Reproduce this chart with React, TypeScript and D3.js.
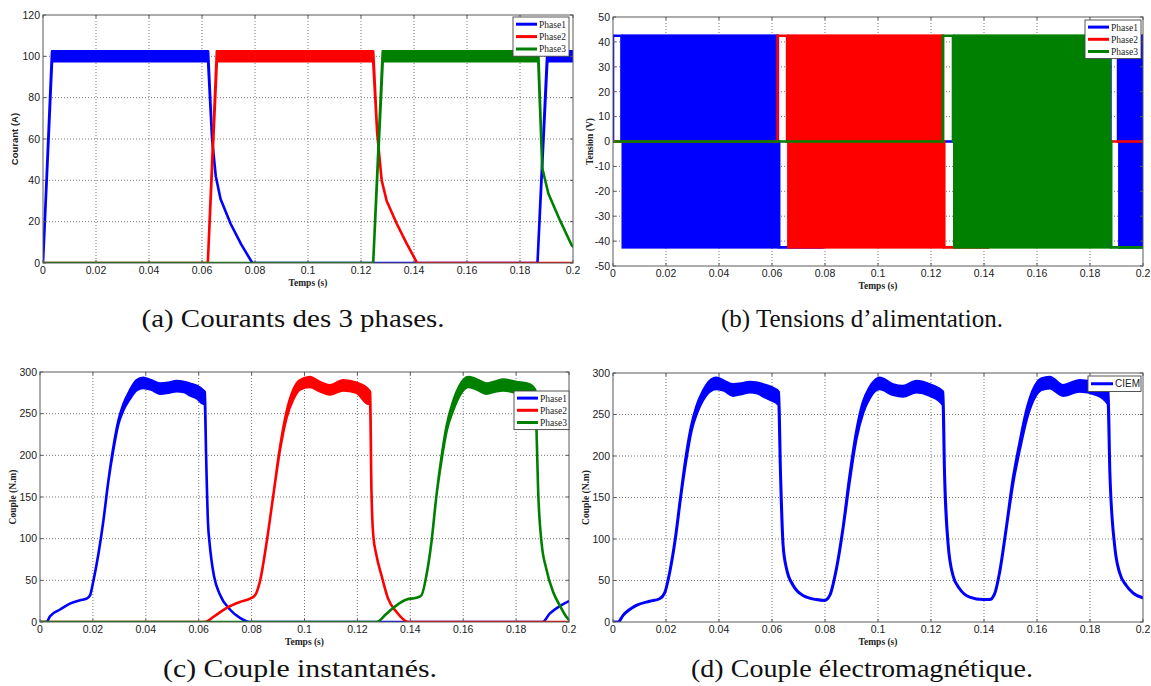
import React from 'react';
import * as d3 from 'd3';

type Band = [number, number, number];
type Seg = [number, number, number, number];

const timeTicks = [0, 0.02, 0.04, 0.06, 0.08, 0.1, 0.12, 0.14, 0.16, 0.18, 0.2];
const currentTicks = [0, 20, 40, 60, 80, 100, 120];
const voltageTicks = [-50, -40, -30, -20, -10, 0, 10, 20, 30, 40, 50];
const torqueTicks = [0, 50, 100, 150, 200, 250, 300];

const phaseNames = ['Phase1', 'Phase2', 'Phase3'];
const phaseColors = ['#0000ff', '#ff0000', '#008000'];
const totalName = 'CIEM';

// (a) currents [t, low, high]
const current1: Band[] = [
  [0, 0, 0], [0.0034, 97.6, 102.4], [0.0623, 97.6, 102.4], [0.0638, 60, 60], [0.0652, 42, 42],
  [0.067, 31, 31], [0.0708, 19, 19], [0.0748, 9, 9], [0.079, 0, 0], [0.1866, 0, 0],
  [0.1903, 97.6, 102.4], [0.2, 97.6, 102.4],
];
const current2: Band[] = [
  [0, 0, 0], [0.0622, 0, 0], [0.0656, 97.6, 102.4], [0.1246, 97.6, 102.4], [0.1261, 63, 63],
  [0.1278, 40, 40], [0.1297, 30, 30], [0.1335, 19, 19], [0.1372, 9.5, 9.5], [0.1412, 0, 0], [0.2, 0, 0],
];
const current3: Band[] = [
  [0, 0, 0], [0.1246, 0, 0], [0.1282, 97.6, 102.4], [0.1869, 97.6, 102.4], [0.1884, 46, 46],
  [0.1907, 33.6, 33.6], [0.1951, 20.6, 20.6], [0.1995, 8.6, 8.6], [0.2, 8, 8],
];

// (b) voltages [t0, t1, low, high]
const voltage1: Seg[] = [
  [0, 0, 0, 0], [0, 0.0032, 42.5, 42.5], [0.0032, 0.0627, -42.5, 42.5], [0.0627, 0.079, -42.5, -42.5],
  [0.079, 0.1877, 0, 0], [0.1877, 0.1906, 42.5, 42.5], [0.1906, 0.2, -42.5, 42.5],
];
const voltage2: Seg[] = [
  [0, 0.0621, 0, 0], [0.0621, 0.0657, 42.5, 42.5], [0.0657, 0.125, -42.5, 42.5],
  [0.125, 0.1415, -42.5, -42.5], [0.1415, 0.2, 0, 0],
];
const voltage3: Seg[] = [
  [0, 0.1245, 0, 0], [0.1245, 0.1283, 42.5, 42.5], [0.1283, 0.188, -42.5, 42.5], [0.188, 0.2, -42.5, -42.5],
];

// (c) torque per phase [t, low, high]
const torque1: Band[] = [
  [0, 0, 0], [0.0025, 0, 0], [0.0038, 7, 7], [0.0076, 15, 15], [0.0113, 22, 22], [0.0151, 26, 26],
  [0.0176, 28, 28], [0.0189, 32, 32], [0.0201, 48, 48], [0.022, 80, 80], [0.0239, 120, 120],
  [0.0258, 168, 168], [0.0277, 206, 209], [0.0296, 237, 241], [0.0315, 254, 261], [0.034, 268, 278],
  [0.0365, 278, 290], [0.039, 281, 293], [0.042, 279, 290], [0.0453, 274, 286], [0.0485, 275, 287],
  [0.0516, 277, 289], [0.0545, 276, 288], [0.0567, 272, 286], [0.0595, 268, 283], [0.0617, 262, 278],
  [0.0623, 262, 276], [0.0628, 200, 200], [0.0635, 120, 120], [0.0641, 95, 95], [0.0648, 75, 75],
  [0.0658, 55, 55], [0.068, 33, 33], [0.0718, 15, 15], [0.0756, 5, 5], [0.0794, 0, 0], [0.19, 0, 0],
  [0.1927, 10, 10], [0.1965, 19, 19], [0.2, 25, 25],
];
const torque2: Band[] = [
  [0, 0, 0], [0.0623, 0, 0], [0.0655, 6, 6], [0.0706, 17, 17], [0.0756, 24, 24], [0.0794, 28, 28],
  [0.0813, 32, 32], [0.0831, 48, 48], [0.0857, 96, 96], [0.0882, 152, 152], [0.0907, 206, 209],
  [0.0932, 245, 252], [0.0957, 267, 278], [0.0982, 279, 290], [0.102, 282, 294], [0.1058, 277, 288],
  [0.1096, 273, 284], [0.1146, 278, 290], [0.1197, 275, 287], [0.1241, 262, 279], [0.1248, 262, 276],
  [0.1253, 160, 160], [0.126, 104, 104], [0.1272, 80, 80], [0.1291, 56, 56], [0.1316, 28, 28],
  [0.1348, 12, 12], [0.1393, 0, 0], [0.2, 0, 0],
];
const torque3: Band[] = [
  [0, 0, 0], [0.1272, 0, 0], [0.131, 10, 10], [0.1348, 20, 20], [0.1386, 27, 27], [0.1423, 29, 29],
  [0.1442, 32, 32], [0.1461, 56, 56], [0.148, 96, 96], [0.1499, 152, 152], [0.1518, 194, 198],
  [0.1537, 229, 235], [0.1562, 254, 265], [0.1587, 272, 284], [0.1619, 282, 294], [0.1645, 280, 292],
  [0.1688, 274, 286], [0.1725, 277, 289], [0.1751, 278, 291], [0.1801, 275, 288], [0.1852, 270, 285],
  [0.1872, 264, 279], [0.1877, 232, 232], [0.1883, 161, 161], [0.1896, 96, 96], [0.1914, 64, 64],
  [0.194, 36, 36], [0.1965, 20, 20], [0.1996, 4, 4], [0.2, 3, 3],
];

// (d) total electromagnetic torque [t, low, high]
const torqueTotal: Band[] = [
  [0, 0, 0], [0.0019, 0, 0], [0.0038, 8, 8], [0.0088, 20, 20], [0.0138, 25, 25], [0.0176, 28, 28],
  [0.0195, 35, 35], [0.0214, 60, 60], [0.0235, 100, 100], [0.0255, 150, 150], [0.0275, 194, 198],
  [0.0295, 230, 235], [0.0315, 251, 259], [0.034, 268, 278], [0.0365, 278, 290], [0.039, 281, 294],
  [0.042, 279, 290], [0.0453, 273, 286], [0.0485, 275, 287], [0.0516, 277, 289], [0.0545, 276, 288],
  [0.0567, 272, 286], [0.0595, 268, 283], [0.0625, 262, 277], [0.0632, 180, 180], [0.0642, 92, 92],
  [0.0655, 64, 64], [0.068, 44, 44], [0.0717, 32, 32], [0.0767, 27, 27], [0.0799, 26, 26],
  [0.0818, 32, 32], [0.0843, 64, 64], [0.0868, 113, 113], [0.0893, 171, 175], [0.0918, 221, 228],
  [0.0943, 252, 264], [0.0968, 270, 282], [0.1006, 281, 294], [0.1057, 274, 286], [0.1094, 272, 284],
  [0.1145, 277, 290], [0.1195, 273, 286], [0.1245, 262, 277], [0.1251, 180, 180], [0.1264, 96, 96],
  [0.1283, 56, 56], [0.1308, 40, 40], [0.1346, 30, 30], [0.1396, 27, 27], [0.1421, 27, 27],
  [0.144, 34, 34], [0.1459, 60, 60], [0.1484, 113, 113], [0.1509, 167, 171], [0.1535, 209, 216],
  [0.156, 244, 254], [0.1585, 267, 279], [0.1616, 280, 293], [0.1648, 282, 295], [0.1698, 273, 285],
  [0.1761, 278, 291], [0.1824, 274, 287], [0.1868, 263, 279], [0.1875, 180, 180], [0.1893, 92, 92],
  [0.1911, 60, 60], [0.1937, 44, 44], [0.1962, 35, 35], [0.2, 29, 29],
];

const captions = [
  '(a) Courants des 3 phases.',
  '(b) Tensions d\u2019alimentation.',
  '(c) Couple instantanés.',
  '(d) Couple électromagnétique.',
];

const SERIF = '"Liberation Serif", "Times New Roman", serif';
const SANS = '"Liberation Sans", Arial, sans-serif';
const AXIS = '#5a5a5a';
const VLINE = 2.6;

type Box = { x0: number; x1: number; y0: number; y1: number };

function fmtTick(v: number) {
  return String(+v.toFixed(4));
}

function Axes(props: {
  id: string;
  box: Box;
  yDomain: [number, number];
  yTicks: number[];
  yLabel: string;
  yLabelX: number;
  yLabelFont: string;
  children: (x: d3.ScaleLinear<number, number>, y: d3.ScaleLinear<number, number>) => React.ReactNode;
  legend: React.ReactNode;
}) {
  const { box, yDomain, yTicks } = props;
  const x = d3.scaleLinear().domain([0, 0.2]).range([box.x0, box.x1]);
  const y = d3.scaleLinear().domain(yDomain).range([box.y1, box.y0]);
  const tl = 3;
  return (
    <g>
      <rect x={box.x0} y={box.y0} width={box.x1 - box.x0} height={box.y1 - box.y0} fill="#fff" />
      <clipPath id={props.id}>
        <rect x={box.x0} y={box.y0} width={box.x1 - box.x0} height={box.y1 - box.y0} />
      </clipPath>
      <g stroke="#555" strokeWidth={0.8} strokeDasharray="1,2">
        {timeTicks.slice(1, -1).map((t) => (
          <line key={'gx' + t} x1={x(t)} x2={x(t)} y1={box.y0} y2={box.y1} />
        ))}
        {yTicks.slice(1, -1).map((v) => (
          <line key={'gy' + v} x1={box.x0} x2={box.x1} y1={y(v)} y2={y(v)} />
        ))}
      </g>
      <g clipPath={`url(#${props.id})`}>{props.children(x, y)}</g>
      <rect x={box.x0} y={box.y0} width={box.x1 - box.x0} height={box.y1 - box.y0} fill="none" stroke={AXIS} strokeWidth={1} />
      <g stroke={AXIS} strokeWidth={1}>
        {timeTicks.map((t) => (
          <g key={'tx' + t}>
            <line x1={x(t)} x2={x(t)} y1={box.y1} y2={box.y1 - tl} />
            <line x1={x(t)} x2={x(t)} y1={box.y0} y2={box.y0 + tl} />
          </g>
        ))}
        {yTicks.map((v) => (
          <g key={'ty' + v}>
            <line x1={box.x0} x2={box.x0 + tl} y1={y(v)} y2={y(v)} />
            <line x1={box.x1} x2={box.x1 - tl} y1={y(v)} y2={y(v)} />
          </g>
        ))}
      </g>
      <g fontFamily={SANS} fontSize={10.5} fill="#1a1a1a">
        {timeTicks.map((t) => (
          <text key={'lx' + t} x={x(t)} y={box.y1 + 11} textAnchor="middle">
            {fmtTick(t)}
          </text>
        ))}
        {yTicks.map((v) => (
          <text key={'ly' + v} x={box.x0 - 3} y={y(v) + 3.8} textAnchor="end">
            {v}
          </text>
        ))}
      </g>
      <text
        x={(box.x0 + box.x1) / 2}
        y={box.y1 + 22.5}
        textAnchor="middle"
        fontFamily={SERIF}
        fontWeight="bold"
        fontSize={9.5}
        fill="#222"
      >
        Temps (s)
      </text>
      <text
        transform={`translate(${props.yLabelX},${(box.y0 + box.y1) / 2}) rotate(-90)`}
        textAnchor="middle"
        dy="0.35em"
        fontFamily={props.yLabelFont}
        fontWeight="bold"
        fontSize={9.5}
        fill="#222"
      >
        {props.yLabel}
      </text>
      {props.legend}
    </g>
  );
}

function BandSeries(props: {
  data: Band[];
  color: string;
  x: d3.ScaleLinear<number, number>;
  y: d3.ScaleLinear<number, number>;
  width: number;
  smooth?: boolean;
}) {
  const { x, y } = props;
  const area = d3
    .area<Band>()
    .x((d) => x(d[0]))
    .y0((d) => y(d[1]))
    .y1((d) => y(d[2]))
    .curve(props.smooth ? d3.curveMonotoneX : d3.curveLinear);
  return (
    <path
      d={area(props.data) || ''}
      fill={props.color}
      stroke={props.color}
      strokeWidth={props.width}
      strokeLinejoin="round"
    />
  );
}

function VoltageSeries(props: {
  data: Seg[];
  color: string;
  x: d3.ScaleLinear<number, number>;
  y: d3.ScaleLinear<number, number>;
}) {
  const { x, y, data, color } = props;
  const pts: [number, number][] = [];
  data.forEach(([t0, t1, lo, hi]) => {
    const level = lo === hi ? lo : 0;
    pts.push([t0, level], [t1, level]);
  });
  const line = d3
    .line<[number, number]>()
    .x((d) => x(d[0]))
    .y((d) => y(d[1]));
  return (
    <g>
      {data
        .filter((s) => s[2] !== s[3])
        .map((s, i) => (
          <rect
            key={i}
            x={x(s[0])}
            y={y(s[3]) - VLINE / 2}
            width={x(s[1]) - x(s[0])}
            height={y(s[2]) - y(s[3]) + VLINE}
            fill={color}
          />
        ))}
      <path d={line(pts) || ''} fill="none" stroke={color} strokeWidth={VLINE} />
    </g>
  );
}

function Legend(props: { x: number; y: number; w: number; rowH: number; names: string[]; colors: string[]; font: string; fontSize: number; lineLen: number }) {
  const { x, y, w, rowH, names } = props;
  const h = rowH * names.length + 2;
  return (
    <g>
      <rect x={x} y={y} width={w} height={h} fill="#fff" stroke="#444" strokeWidth={0.9} />
      {names.map((n, i) => {
        const cy = y + 1 + rowH * (i + 0.5);
        return (
          <g key={n}>
            <line x1={x + 3} x2={x + 3 + props.lineLen} y1={cy} y2={cy} stroke={props.colors[i]} strokeWidth={3} />
            <text x={x + 5 + props.lineLen} y={cy + 3.4} fontFamily={props.font} fontSize={props.fontSize} fill="#222">
              {n}
            </text>
          </g>
        );
      })}
    </g>
  );
}

const boxA: Box = { x0: 43, x1: 573, y0: 15, y1: 263 };
const boxB: Box = { x0: 613, x1: 1143, y0: 17, y1: 266 };
const boxC: Box = { x0: 40, x1: 569, y0: 372, y1: 622 };
const boxD: Box = { x0: 613, x1: 1143, y0: 373, y1: 622 };

export default function App() {
  const currents = [current1, current2, current3];
  const voltages = [voltage1, voltage2, voltage3];
  const torques = [torque1, torque2, torque3];
  return (
    <svg
      width={1151}
      height={686}
      viewBox="0 0 1151 686"
      style={{ position: 'absolute', left: 0, top: 0, background: '#fff' }}
    >
      <rect x={0} y={0} width={1151} height={686} fill="#fff" />
      <Axes
        id="clipA"
        box={boxA}
        yDomain={[0, 120]}
        yTicks={currentTicks}
        yLabel="Courant (A)"
        yLabelX={15}
        yLabelFont={SANS}
        legend={<Legend x={513} y={17} w={56} rowH={12.4} names={phaseNames} colors={phaseColors} font={SERIF} fontSize={9.5} lineLen={21} />}
      >
        {(x, y) => currents.map((c, i) => <BandSeries key={i} data={c} color={phaseColors[i]} x={x} y={y} width={2.6} />)}
      </Axes>
      <Axes
        id="clipB"
        box={boxB}
        yDomain={[-50, 50]}
        yTicks={voltageTicks}
        yLabel="Tension (V)"
        yLabelX={590}
        yLabelFont={SERIF}
        legend={<Legend x={1085} y={20} w={56} rowH={12.2} names={phaseNames} colors={phaseColors} font={SERIF} fontSize={9.5} lineLen={21} />}
      >
        {(x, y) => voltages.map((v, i) => <VoltageSeries key={i} data={v} color={phaseColors[i]} x={x} y={y} />)}
      </Axes>
      <Axes
        id="clipC"
        box={boxC}
        yDomain={[0, 300]}
        yTicks={torqueTicks}
        yLabel="Couple (N.m)"
        yLabelX={13}
        yLabelFont={SERIF}
        legend={<Legend x={514} y={391} w={55} rowH={12.2} names={phaseNames} colors={phaseColors} font={SERIF} fontSize={9.5} lineLen={21} />}
      >
        {(x, y) => torques.map((c, i) => <BandSeries key={i} data={c} color={phaseColors[i]} x={x} y={y} width={2.6} smooth />)}
      </Axes>
      <Axes
        id="clipD"
        box={boxD}
        yDomain={[0, 300]}
        yTicks={torqueTicks}
        yLabel="Couple (N.m)"
        yLabelX={586}
        yLabelFont={SERIF}
        legend={<Legend x={1088} y={376} w={53} rowH={13.5} names={[totalName]} colors={[phaseColors[0]]} font={SANS} fontSize={10} lineLen={22} />}
      >
        {(x, y) => <BandSeries data={torqueTotal} color={phaseColors[0]} x={x} y={y} width={3} smooth />}
      </Axes>
      <g fontFamily={SERIF} fontSize={26} fill="#111">
        <text x={293} y={327} textAnchor="middle" textLength={303} lengthAdjust="spacingAndGlyphs">{captions[0]}</text>
        <text x={862} y={327} textAnchor="middle" textLength={282} lengthAdjust="spacingAndGlyphs">{captions[1]}</text>
        <text x={300} y={677} textAnchor="middle" textLength={274} lengthAdjust="spacingAndGlyphs">{captions[2]}</text>
        <text x={862} y={677} textAnchor="middle" textLength={342} lengthAdjust="spacingAndGlyphs">{captions[3]}</text>
      </g>
    </svg>
  );
}
